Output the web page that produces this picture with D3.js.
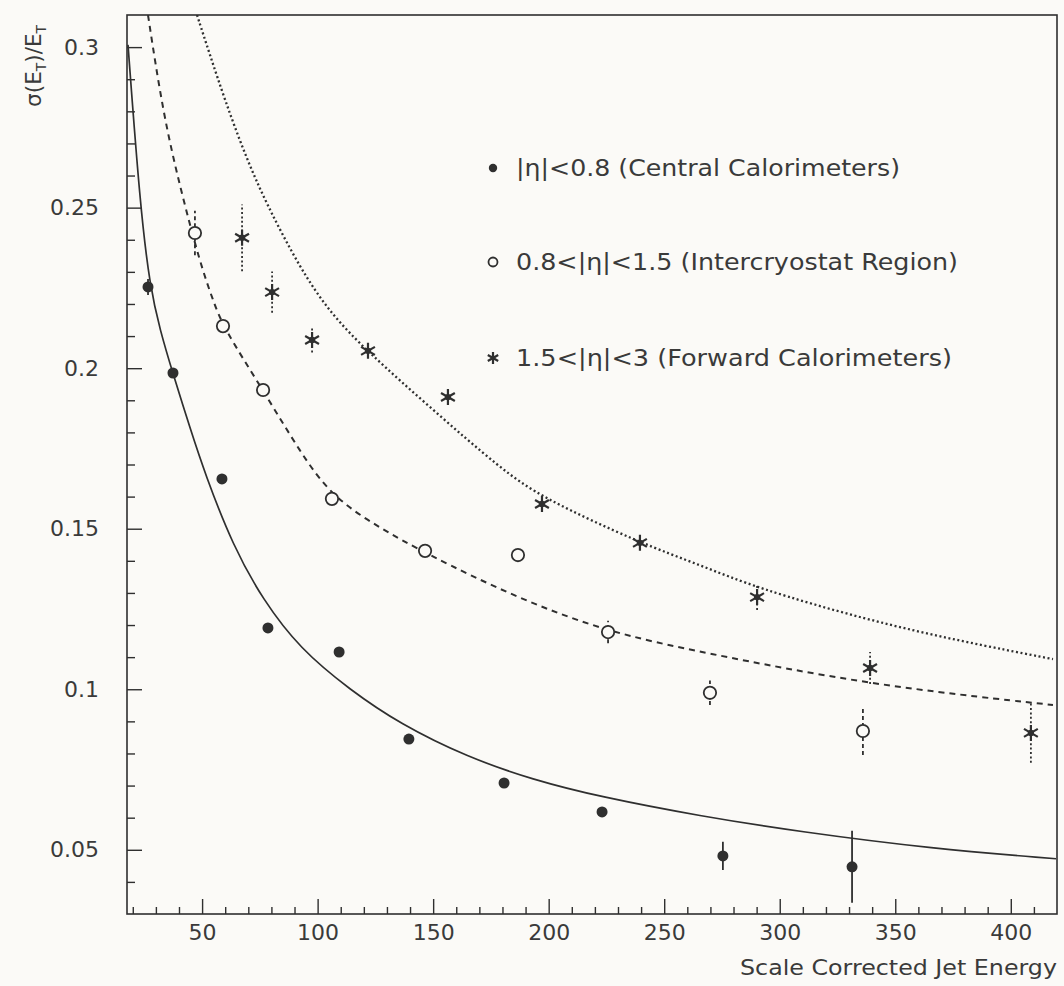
<!DOCTYPE html>
<html>
<head>
<meta charset="utf-8">
<script src="https://cdn.jsdelivr.net/npm/d3@7"></script>
<style>
  html, body { margin: 0; padding: 0; background: #fbfaf7; }
  svg { display: block; }
  text { font-family: "DejaVu Sans", sans-serif; fill: #3a3a3a; }
</style>
</head>
<body>
<svg id="chart" width="1064" height="986"></svg>
<script>
// Jet energy resolution vs. scale corrected jet energy, three eta regions.

// |eta| < 0.8 (central calorimeters): measured points
const centralE   = [26.6, 37.4, 58.6, 78.5, 109.3, 139.5, 180.7, 223.1, 275.4, 331.3];
const centralRes = [0.2253, 0.1985, 0.1655, 0.1191, 0.1116, 0.0845, 0.0708, 0.0618, 0.0481, 0.0447];
const centralErr = [0.0025, 0.0015, 0.0012, 0.0012, 0.0012, 0.0012, 0.0012, 0.0012, 0.0044, 0.0112];

// 0.8 < |eta| < 1.5 (intercryostat region): measured points
const icrE   = [46.9, 59.05, 76.4, 106.2, 146.5, 186.7, 225.7, 269.8, 336.0];
const icrRes = [0.2421, 0.2131, 0.1932, 0.1593, 0.1431, 0.1418, 0.1178, 0.0989, 0.0870];
const icrErr = [0.0069, 0.0015, 0.0015, 0.0015, 0.0015, 0.0015, 0.0035, 0.0038, 0.0075];

// 1.5 < |eta| < 3 (forward calorimeters): measured points
const fwdE   = [67.3, 80.3, 97.6, 121.8, 156.4, 197.1, 239.5, 290.2, 339.1, 408.7];
const fwdRes = [0.2406, 0.2237, 0.2088, 0.2054, 0.1910, 0.1577, 0.1456, 0.1287, 0.1066, 0.0864];
const fwdErr = [0.0104, 0.0064, 0.0039, 0.0015, 0.0015, 0.0015, 0.0015, 0.0040, 0.0050, 0.0093];

// Fitted resolution curves, sampled along E
const centralFitE   = [17.93, 23.13, 27.45, 31.78, 37.41, 44.77, 51.26, 63.38, 76.36, 92.37, 114.01, 135.65, 164.65, 193.21, 222.21, 265.49, 308.77, 366.33, 419.56];
const centralFitRes = [0.3007, 0.2508, 0.2253, 0.2119, 0.1982, 0.1814, 0.1671, 0.1446, 0.1278, 0.1126, 0.0998, 0.0892, 0.0789, 0.0718, 0.0665, 0.0605, 0.0556, 0.0503, 0.0472];

const icrFitE   = [26.59, 33.08, 40.44, 49.09, 54.72, 59.05, 76.36, 92.37, 106.22, 127.0, 146.47, 186.29, 225.67, 265.49, 339.06, 418.26];
const icrFitRes = [0.3100, 0.2795, 0.2564, 0.2328, 0.2212, 0.2128, 0.1932, 0.1739, 0.1599, 0.1502, 0.1424, 0.1284, 0.1178, 0.1116, 0.1013, 0.0951];

const fwdFitE   = [47.80, 53.42, 59.91, 68.57, 78.09, 92.37, 105.36, 121.80, 149.93, 178.93, 197.11, 239.52, 265.49, 290.16, 337.76, 378.01, 418.26];
const fwdFitRes = [0.3100, 0.2975, 0.2835, 0.2664, 0.2508, 0.2312, 0.2172, 0.2050, 0.1870, 0.1689, 0.1596, 0.1456, 0.1387, 0.1315, 0.1216, 0.1150, 0.1094];

// Axis ticks
const xMajorTicks = [50, 100, 150, 200, 250, 300, 350, 400];
const xMinorTicks = d3.range(20, 420, 10).filter(v => v % 50 !== 0);
const yMajorTicks = [0.05, 0.1, 0.15, 0.2, 0.25, 0.3];
const yMinorTicks = [0.04, 0.06, 0.07, 0.08, 0.09, 0.11, 0.12, 0.13, 0.14, 0.16, 0.17, 0.18, 0.19, 0.21, 0.22, 0.23, 0.24, 0.26, 0.27, 0.28, 0.29];

const legendLabels = [
  "|\u03b7|<0.8 (Central Calorimeters)",
  "0.8<|\u03b7|<1.5 (Intercryostat Region)",
  "1.5<|\u03b7|<3 (Forward Calorimeters)"
];

const ink = "#2f2f2f";
const paper = "#fbfaf7";

const plot = { left: 127, right: 1057, top: 15, bottom: 914 };

const svg = d3.select("#chart");
svg.append("rect").attr("width", 1064).attr("height", 986).attr("fill", paper);

const x = d3.scaleLinear().domain([17.5, 420]).range([plot.left, plot.right]);
const y = d3.scaleLinear().domain([0.03, 0.31]).range([plot.bottom, plot.top]);

svg.append("clipPath").attr("id", "plotClip")
  .append("rect")
  .attr("x", plot.left).attr("y", plot.top)
  .attr("width", plot.right - plot.left).attr("height", plot.bottom - plot.top);

// Axes with inward ticks
function styleAxis(g) {
  g.select(".domain").remove();
  g.selectAll(".tick line").attr("stroke", ink).attr("stroke-width", 1.4);
  g.selectAll(".tick text").attr("fill", "#3a3a3a").style("font-size", "22px")
    .style("font-family", "DejaVu Sans, sans-serif");
}

svg.append("g").attr("transform", `translate(0,${plot.bottom})`)
  .call(d3.axisBottom(x).tickValues(xMinorTicks).tickSize(-7).tickFormat(""))
  .call(styleAxis);
svg.append("g").attr("transform", `translate(0,${plot.bottom})`)
  .call(d3.axisBottom(x).tickValues(xMajorTicks).tickSize(-15).tickPadding(10).tickFormat(d3.format("d")))
  .call(styleAxis);

svg.append("g").attr("transform", `translate(${plot.left},0)`)
  .call(d3.axisLeft(y).tickValues(yMinorTicks).tickSize(-8).tickFormat(""))
  .call(styleAxis);
svg.append("g").attr("transform", `translate(${plot.left},0)`)
  .call(d3.axisLeft(y).tickValues(yMajorTicks).tickSize(-15).tickPadding(28).tickFormat(d3.format("~g")))
  .call(styleAxis);

// Frame
svg.append("rect")
  .attr("x", plot.left).attr("y", plot.top)
  .attr("width", plot.right - plot.left).attr("height", plot.bottom - plot.top)
  .attr("fill", "none").attr("stroke", ink).attr("stroke-width", 1.6);

// Fit curves
const line = d3.line().x(d => x(d[0])).y(d => y(d[1])).curve(d3.curveBasis);
const curves = svg.append("g").attr("clip-path", "url(#plotClip)");

curves.append("path")
  .attr("d", line(d3.zip(centralFitE, centralFitRes)))
  .attr("fill", "none").attr("stroke", ink).attr("stroke-width", 1.7);
curves.append("path")
  .attr("d", line(d3.zip(icrFitE, icrFitRes)))
  .attr("fill", "none").attr("stroke", ink).attr("stroke-width", 2)
  .attr("stroke-dasharray", "6,5");
curves.append("path")
  .attr("d", line(d3.zip(fwdFitE, fwdFitRes)))
  .attr("fill", "none").attr("stroke", ink).attr("stroke-width", 2.3)
  .attr("stroke-dasharray", "2,2.6");

// Error bars
function errorBars(E, R, Err, dash) {
  svg.append("g").selectAll("line")
    .data(d3.zip(E, R, Err))
    .join("line")
    .attr("x1", d => x(d[0])).attr("x2", d => x(d[0]))
    .attr("y1", d => y(d[1] - d[2])).attr("y2", d => y(d[1] + d[2]))
    .attr("stroke", ink).attr("stroke-width", 1.8)
    .attr("stroke-dasharray", dash);
}
errorBars(centralE, centralRes, centralErr, null);
errorBars(icrE, icrRes, icrErr, "4,3");
errorBars(fwdE, fwdRes, fwdErr, "2,2.4");

// Markers
function starPath(r) {
  const p = d3.path();
  [90, 30, -30].forEach(a => {
    const t = a * Math.PI / 180;
    p.moveTo(-r * Math.cos(t), -r * Math.sin(t));
    p.lineTo(r * Math.cos(t), r * Math.sin(t));
  });
  return p.toString();
}

function drawFilled(g, cx, cy, r) {
  g.append("circle").attr("cx", cx).attr("cy", cy).attr("r", r).attr("fill", ink);
}
function drawOpen(g, cx, cy, r) {
  g.append("circle").attr("cx", cx).attr("cy", cy).attr("r", r)
    .attr("fill", paper).attr("stroke", ink).attr("stroke-width", 1.8);
}
function drawStar(g, cx, cy, r) {
  g.append("path").attr("transform", `translate(${cx},${cy})`)
    .attr("d", starPath(r)).attr("stroke", ink).attr("stroke-width", 2.2).attr("fill", "none");
  g.append("circle").attr("cx", cx).attr("cy", cy).attr("r", r * 0.4).attr("fill", ink);
}

const marks = svg.append("g");
centralE.forEach((e, i) => drawFilled(marks, x(e), y(centralRes[i]), 5.5));
icrE.forEach((e, i) => drawOpen(marks, x(e), y(icrRes[i]), 6.2));
fwdE.forEach((e, i) => drawStar(marks, x(e), y(fwdRes[i]), 8));

// Legend
const legend = svg.append("g");
const legendRows = [168, 262, 358];
const legendWidths = [384, 442, 436];
drawFilled(legend, 493, legendRows[0], 4.2);
drawOpen(legend, 493, legendRows[1], 4.5);
drawStar(legend, 493, legendRows[2], 6);
legendLabels.forEach((t, i) => {
  legend.append("text")
    .attr("x", 516).attr("y", legendRows[i] + 8)
    .attr("textLength", legendWidths[i]).attr("lengthAdjust", "spacingAndGlyphs")
    .style("font-size", "23px")
    .text(t);
});

// Axis titles
svg.append("text")
  .attr("x", 1057).attr("y", 975)
  .attr("text-anchor", "end")
  .attr("textLength", 317).attr("lengthAdjust", "spacingAndGlyphs")
  .style("font-size", "21px")
  .text("Scale Corrected Jet Energy");

const yTitle = svg.append("text")
  .attr("transform", "translate(41,107) rotate(-90)")
  .attr("textLength", 82).attr("lengthAdjust", "spacingAndGlyphs")
  .style("font-size", "22px");
yTitle.append("tspan").text("\u03c3(E");
yTitle.append("tspan").attr("dy", 5).style("font-size", "14px").text("T");
yTitle.append("tspan").attr("dy", -5).text(")/E");
yTitle.append("tspan").attr("dy", 5).style("font-size", "14px").text("T");
</script>
</body>
</html>
